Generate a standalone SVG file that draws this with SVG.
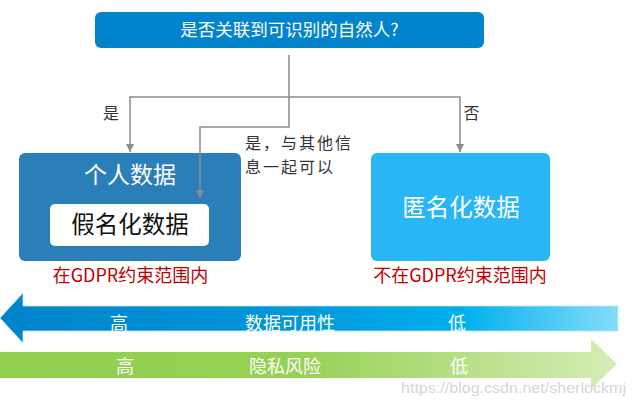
<svg xmlns="http://www.w3.org/2000/svg" width="635" height="407" viewBox="0 0 635 407">
<defs>
<style>
.t{font-family:"Noto Sans CJK SC","Noto Sans",sans-serif;}
.w{fill:#ffffff;}
.lbl{fill:#333333;}
.red{fill:#C00000;font-size:18px;}
.conn{fill:none;stroke:#8C8C8C;stroke-width:1.5;}
.band{fill:#ffffff;font-size:18px;}
</style>
<marker id="ah" viewBox="0 0 10 10" refX="10" refY="5" markerWidth="8" markerHeight="8" markerUnits="userSpaceOnUse" orient="auto">
<path d="M0,0 L10,5 L0,10 Z" fill="#8C8C8C"/>
</marker>
<linearGradient id="gBlue" x1="0" y1="0" x2="618" y2="0" gradientUnits="userSpaceOnUse">
<stop offset="0" stop-color="#0283CC"/>
<stop offset="0.45" stop-color="#0295D9"/>
<stop offset="0.75" stop-color="#00B0EE"/>
<stop offset="1" stop-color="#85DCFA"/>
</linearGradient>
<linearGradient id="gGreen" x1="0" y1="0" x2="618" y2="0" gradientUnits="userSpaceOnUse">
<stop offset="0" stop-color="#92D050"/>
<stop offset="0.48" stop-color="#95D154"/>
<stop offset="1" stop-color="#D6EDB6"/>
</linearGradient>
</defs>
<rect width="635" height="407" fill="#ffffff"/>

<g id="question">
<rect x="95" y="12" width="389" height="36" rx="6" fill="#0284CC"/>
<text class="t w" x="289.5" y="36" font-size="17.5" text-anchor="middle">是否关联到可识别的自然人?</text>
</g>

<g id="label-yes">
<text class="t lbl" x="111" y="119" font-size="16" text-anchor="middle">是</text>
</g>
<g id="label-no">
<text class="t lbl" x="471.5" y="119" font-size="16" text-anchor="middle">否</text>
</g>
<g id="label-yes-with-other">
<text class="t lbl" font-size="16" letter-spacing="2"><tspan x="245" y="148.5">是，与其他信</tspan><tspan x="245" y="172.5">息一起可以</tspan></text>
</g>

<g id="personal-data">
<rect x="19" y="153" width="222" height="108" rx="6" fill="#2A7FB8"/>
<text class="t w" x="130" y="183" font-size="23" text-anchor="middle">个人数据</text>
<text class="t red" x="130.5" y="282" text-anchor="middle">在GDPR约束范围内</text>
</g>

<g id="pseudonymised-data">
<rect x="50" y="204" width="159" height="42" rx="5" fill="#ffffff"/>
<text class="t" x="130" y="233" font-size="23.5" fill="#111111" text-anchor="middle">假名化数据</text>
</g>

<g id="anonymised-data">
<rect x="371" y="153" width="179" height="108" rx="6" fill="#29B6F6"/>
<text class="t w" x="461" y="216" font-size="23.5" text-anchor="middle">匿名化数据</text>
<text class="t red" x="460" y="282" text-anchor="middle">不在GDPR约束范围内</text>
</g>

<g id="connectors">
<path class="conn" d="M289,55 V97 H130 V152" marker-end="url(#ah)"/>
<path class="conn" d="M289,97 H460 V152" marker-end="url(#ah)"/>
<path class="conn" d="M289,97 V127 H200 V198" marker-end="url(#ah)"/>
</g>

<g id="usability-arrow">
<path d="M0,318 L23,293 V306 H618 V331 H23 V343 Z" fill="url(#gBlue)" stroke="#BDE6F8" stroke-width="0.8"/>
<text class="t band" x="119" y="330" text-anchor="middle">高</text>
<text class="t band" x="290" y="330" text-anchor="middle">数据可用性</text>
<text class="t band" x="457" y="330" text-anchor="middle">低</text>
</g>

<g id="privacy-arrow">
<path d="M0,352 H591 V339 L617,364 L591,389 V378 H0 Z" fill="url(#gGreen)"/>
<text class="t band" x="125" y="373" text-anchor="middle">高</text>
<text class="t band" x="285" y="373" text-anchor="middle">隐私风险</text>
<text class="t band" x="459" y="373" text-anchor="middle">低</text>
</g>

<text x="401" y="393" font-family="Liberation Sans, Arial, sans-serif" font-size="14" fill="#D6D6D6" textLength="225" lengthAdjust="spacingAndGlyphs">https://blog.csdn.net/sherlockmj</text>
</svg>
